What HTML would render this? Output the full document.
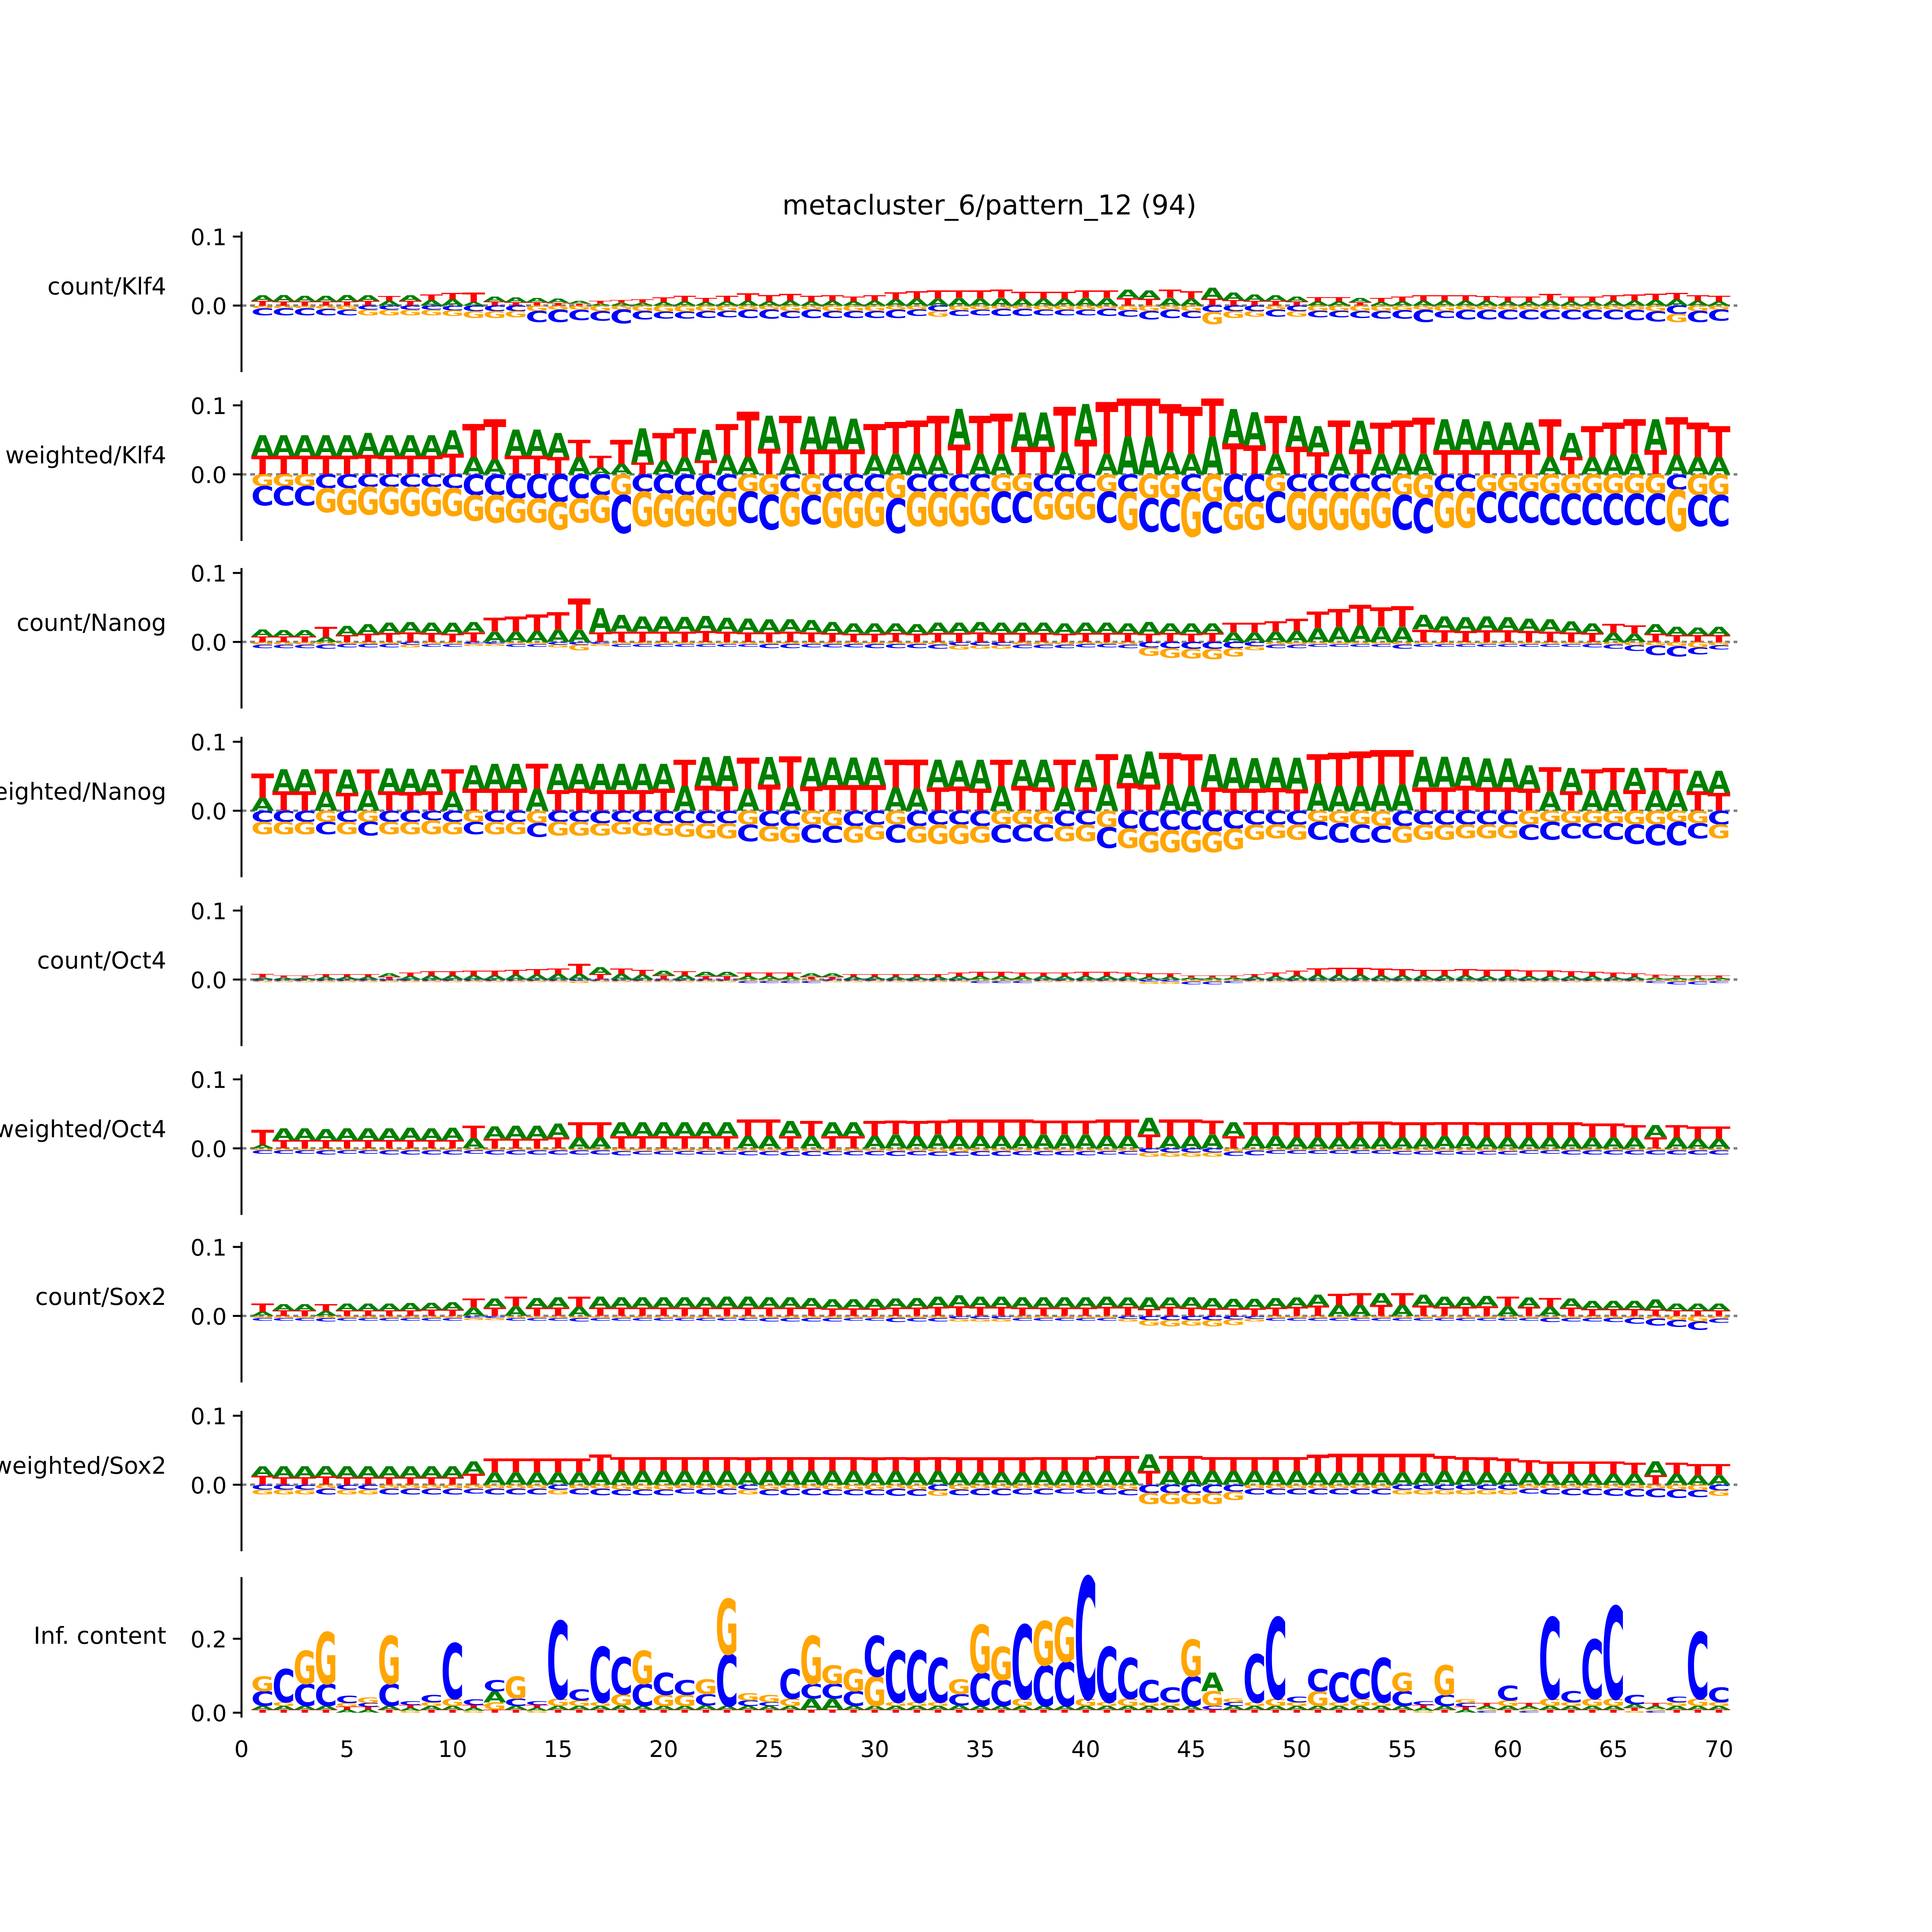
<!DOCTYPE html>
<html><head><meta charset="utf-8"><style>
html,body{margin:0;padding:0;background:#fff;overflow:hidden}
#wrap{position:absolute;left:0;top:0;width:5000px;height:5000px;overflow:hidden}
#chart{display:block;width:5000px;height:5000px}
</style></head><body>
<div id="wrap">
<svg id="chart" xmlns="http://www.w3.org/2000/svg" width="5000" height="5000" viewBox="0 0 1568 1568" preserveAspectRatio="none" overflow="hidden" font-family="DejaVu Sans, Liberation Sans, sans-serif">
<rect width="1568" height="1568" fill="#fff"/>
<text x="803" y="174" font-size="22" text-anchor="middle">metacluster_6/pattern_12 (94)</text>
<g id="panels"></g>
</svg>
</div>
<script>
const positions = Array.from({length:70},(_,i)=>i+1);
const xTicks = [0,5,10,15,20,25,30,35,40,45,50,55,60,65,70];
const panelLabels = ["count/Klf4","weighted/Klf4","count/Nanog","weighted/Nanog","count/Oct4","weighted/Oct4","count/Sox2","weighted/Sox2","Inf. content"];
const contribTicks = ["0.0","0.1"];
const icTicks = ["0.0","0.2"];
// values in thousandths
const countKlf4A=[8,9,8,8,9,8,7,8,8,9,5,7,7,6,6,4,3,4,4,5,6,5,6,7,6,7,6,7,6,7,9,10,10,11,10,11,10,10,10,11,11,12,12,11,10,16,11,9,8,7,6,6,6,5,6,7,7,7,7,6,6,7,6,6,7,7,8,9,7,6];
const countKlf4T=[7,6,6,6,6,7,7,7,8,9,14,6,5,5,4,3,4,4,5,7,8,6,8,11,9,10,8,8,7,8,10,11,12,11,12,12,10,10,10,11,11,11,10,12,11,10,8,7,7,6,6,6,5,6,7,8,8,8,7,7,7,10,7,7,8,9,9,9,8,8];
const countKlf4C=[10,10,10,9,8,6,6,6,6,7,8,8,8,16,18,15,14,20,12,10,10,10,9,12,13,10,12,10,10,10,12,9,8,8,8,10,10,8,8,8,10,9,12,12,10,9,8,8,10,8,9,9,10,11,12,18,10,14,14,14,14,14,14,14,14,15,15,12,16,16];
const countKlf4G=[4,4,4,5,6,8,8,8,8,8,10,10,9,8,6,6,8,6,8,9,9,8,8,6,6,8,6,8,8,8,6,6,8,7,6,5,5,6,6,6,5,7,8,6,8,18,10,8,6,8,8,8,8,8,7,6,8,6,6,6,6,6,6,6,6,6,8,12,8,6];
const weightedKlf4A=[30,30,30,30,30,32,30,30,30,34,25,22,38,38,35,25,10,15,50,20,25,45,28,25,48,30,48,48,45,28,30,30,28,52,30,30,50,50,32,52,30,55,55,32,30,55,50,48,30,45,38,30,42,30,30,30,45,45,42,40,40,25,35,25,28,30,45,28,25,25];
const weightedKlf4T=[27,27,27,27,27,28,27,27,27,30,48,58,27,27,25,25,17,35,17,40,42,20,45,66,37,55,36,36,36,45,46,48,57,43,55,58,40,40,66,50,75,55,55,70,68,55,45,42,55,40,32,48,36,45,48,52,35,35,35,35,35,55,25,45,47,50,35,55,50,45];
const weightedKlf4C=[28,28,28,20,20,18,18,18,18,20,30,30,35,35,40,35,30,55,25,28,30,30,25,45,50,25,42,25,25,25,50,25,25,25,25,45,45,25,25,25,45,25,48,48,25,45,40,40,45,25,25,25,25,25,50,50,25,25,45,45,45,45,45,45,45,45,45,22,45,45];
const weightedKlf4G=[17,17,17,35,38,40,40,42,42,40,37,40,35,35,40,35,40,30,50,48,45,45,50,25,30,50,30,52,52,50,35,50,50,50,48,25,25,40,40,40,25,55,35,35,65,40,40,40,25,55,55,55,55,52,30,35,52,52,25,25,25,28,28,28,28,28,28,60,30,30];
const countNanogA=[10,9,9,7,13,14,15,15,15,16,15,15,15,16,18,18,35,24,22,22,21,22,20,20,19,18,18,16,15,15,14,14,15,15,15,15,15,15,15,15,15,14,17,14,15,14,14,14,15,16,20,22,24,22,22,21,20,20,20,19,18,18,16,14,13,12,14,12,11,12];
const countNanogT=[8,8,8,15,10,12,13,14,13,12,14,20,22,24,25,45,14,15,15,15,15,16,15,14,14,15,14,13,12,12,13,12,13,13,14,13,13,13,12,13,13,13,12,13,12,13,14,14,15,18,24,26,30,28,30,18,17,16,17,17,16,15,14,13,13,12,12,10,10,10];
const countNanogC=[5,5,5,6,5,5,5,4,4,4,3,3,4,4,4,4,3,4,4,4,4,4,4,4,6,6,5,5,5,6,6,6,6,5,5,5,5,5,5,5,5,5,8,9,10,10,9,6,5,5,4,4,4,4,6,4,4,4,4,4,4,4,4,5,6,8,14,15,10,6];
const countNanogG=[4,4,4,4,3,3,3,4,3,3,3,3,3,3,4,8,3,3,3,3,3,3,3,3,3,3,3,3,3,3,3,3,4,6,5,5,4,4,4,3,3,4,12,14,14,15,12,6,4,4,3,3,3,3,4,3,3,3,3,3,3,3,3,3,4,5,5,6,8,5];
const weightedNanogA=[19,32,32,28,34,30,33,34,32,28,34,36,36,32,38,36,38,38,38,36,36,42,44,32,40,34,42,40,40,40,34,32,40,38,42,36,38,40,34,40,38,42,48,38,36,48,45,44,44,46,40,36,36,38,38,44,44,42,42,42,34,28,34,30,30,32,30,30,30,32];
const weightedNanogT=[35,28,28,32,26,30,28,27,28,32,32,32,32,36,30,32,30,30,30,32,38,36,35,45,38,45,35,37,37,37,40,42,34,35,32,38,36,34,40,34,44,40,38,46,46,34,32,32,33,31,42,48,50,50,50,34,34,36,34,34,32,35,28,30,32,30,32,30,28,26];
const weightedNanogC=[16,16,16,18,16,20,16,16,14,16,18,16,16,20,16,16,18,16,16,18,18,18,18,24,22,22,26,24,22,20,26,22,20,20,22,26,24,24,22,20,30,26,30,28,28,30,26,20,20,20,26,28,26,24,22,20,20,20,20,20,22,26,22,22,24,28,30,34,22,20];
const weightedNanogG=[18,18,18,16,18,16,18,18,20,18,16,18,18,18,20,20,18,18,20,18,20,22,22,20,22,24,20,22,24,22,20,24,28,28,24,20,20,20,22,24,24,28,30,32,32,30,30,22,20,22,16,18,20,22,24,22,22,20,20,20,20,16,18,18,18,20,20,16,18,20];
const countOct4A=[3,3,3,4,4,4,5,5,6,6,6,6,7,7,8,8,10,8,7,7,6,6,6,5,5,5,5,5,4,4,4,4,4,5,5,5,5,5,5,5,5,5,4,4,3,3,3,4,5,6,7,7,7,6,6,6,6,6,5,5,5,5,5,5,4,4,3,3,3,3];
const countOct4T=[5,3,3,4,4,4,4,5,6,6,7,7,7,8,8,15,8,8,7,6,6,5,5,5,5,5,4,4,4,4,4,4,4,5,6,6,5,5,5,6,6,5,5,5,3,3,3,4,5,7,9,10,10,10,9,8,8,9,9,9,8,8,7,6,6,5,4,3,3,3];
const countOct4C=[2,2,2,2,2,2,2,2,2,2,2,2,2,2,2,2,2,2,2,2,2,2,2,3,3,3,3,2,2,2,2,2,2,2,3,3,3,2,2,2,2,2,3,3,4,4,3,2,2,2,2,2,2,2,2,2,2,2,2,2,2,2,2,2,2,2,3,4,4,3];
const countOct4G=[2,2,2,2,2,2,2,2,2,2,2,2,2,2,2,3,2,2,2,2,2,2,2,2,2,2,2,2,2,2,2,2,2,2,2,2,2,2,2,2,2,2,3,3,3,3,2,2,2,2,2,2,2,2,2,2,2,2,2,2,2,2,2,2,2,2,2,3,3,2];
const weightedOct4A=[5,17,17,16,17,17,17,18,17,18,15,18,19,19,20,16,16,20,20,20,20,20,20,18,18,22,18,20,20,18,20,18,20,18,18,18,18,20,20,20,18,18,24,18,18,20,20,18,18,16,16,16,16,16,16,16,18,18,16,16,16,16,16,16,16,16,18,16,14,14];
const weightedOct4T=[22,12,12,12,12,12,12,12,12,12,18,14,14,14,16,22,22,18,18,18,18,18,18,24,24,18,22,18,18,22,20,22,20,24,24,24,24,20,20,20,24,24,20,24,24,20,18,20,20,22,22,22,23,23,22,22,20,20,22,22,22,22,22,20,20,18,16,18,18,18];
const weightedOct4C=[5,5,5,6,5,5,6,6,6,6,5,6,6,6,6,6,6,6,5,5,5,5,5,6,6,7,7,6,6,6,7,6,6,6,7,7,6,6,6,6,5,5,6,6,6,6,6,7,5,5,5,5,5,5,5,5,5,5,5,5,5,5,6,6,6,6,6,6,6,6];
const weightedOct4G=[3,3,3,3,3,3,3,3,3,3,3,3,3,3,3,3,3,4,4,4,4,4,4,4,4,4,4,4,4,4,4,4,5,5,4,4,4,4,4,4,4,4,6,6,6,6,5,3,3,3,3,3,3,3,4,4,4,4,4,4,3,3,3,3,3,3,3,3,3,3];
const countSox2A=[6,9,9,7,10,10,10,11,10,11,12,13,14,14,15,13,16,15,15,15,15,15,16,16,15,15,14,13,13,14,13,14,15,16,15,15,15,15,15,15,15,14,17,14,15,15,14,14,14,14,16,16,16,17,16,16,15,15,15,14,14,13,13,12,12,12,15,10,10,10];
const countSox2T=[12,8,8,10,8,8,8,8,9,9,13,12,14,12,12,15,12,12,12,12,12,12,12,12,12,12,12,11,11,11,12,12,13,14,13,13,12,12,12,12,13,13,10,13,12,11,11,11,12,13,15,16,17,16,17,15,13,13,14,14,13,13,12,10,10,10,9,8,8,8];
const countSox2C=[4,4,4,5,4,4,4,4,4,4,3,3,4,4,4,5,4,4,4,4,4,4,4,4,5,5,5,5,4,4,6,5,5,4,4,4,4,4,4,4,4,4,6,6,6,6,5,4,4,4,4,4,4,4,4,4,4,4,4,4,4,6,5,5,6,8,10,10,12,6];
const countSox2G=[3,3,3,3,3,3,3,3,3,3,3,3,3,3,3,3,3,3,3,3,3,3,3,3,3,3,3,3,3,3,3,3,3,4,4,4,3,3,3,3,3,4,8,9,8,9,8,4,3,3,3,3,3,3,3,3,3,3,3,3,3,3,3,3,3,3,4,6,8,4];
const weightedSox2A=[14,16,16,15,16,16,16,16,16,16,18,18,18,18,18,18,20,20,20,20,20,20,20,18,20,20,20,20,20,18,20,18,20,18,18,18,18,20,20,20,20,20,24,20,20,20,20,20,20,20,18,18,18,18,18,18,20,20,18,18,18,16,16,16,16,16,20,16,14,14];
const weightedSox2T=[13,11,11,12,11,11,11,11,11,11,16,20,20,20,20,20,24,20,20,20,20,20,20,22,20,20,20,20,20,22,20,22,20,22,22,22,22,20,20,20,22,22,20,22,22,20,20,20,20,20,26,27,27,27,27,27,22,20,22,20,18,18,18,18,18,16,14,16,16,16];
const weightedSox2C=[7,7,7,8,7,7,8,8,8,8,7,8,8,8,7,8,9,8,8,8,7,8,8,7,8,9,9,8,8,8,10,9,8,8,9,9,8,8,7,7,8,8,12,12,12,12,10,8,8,8,8,8,8,8,7,7,7,7,7,7,7,8,9,9,10,11,12,12,10,8];
const weightedSox2G=[7,7,7,6,7,7,6,6,6,6,6,6,6,6,7,6,6,7,7,7,6,6,6,7,7,6,6,7,7,7,6,7,8,7,6,6,6,6,6,6,6,7,16,16,16,16,12,6,6,6,6,6,6,6,7,7,7,7,7,7,6,6,6,6,6,6,6,7,8,8];
const icA=[10,10,10,10,8,8,10,8,10,10,8,30,10,8,10,10,10,12,10,10,10,12,10,10,10,10,30,30,10,10,10,10,10,12,10,10,10,10,10,10,10,10,10,10,10,50,10,10,10,10,10,10,10,10,10,8,10,8,8,10,8,10,10,10,10,10,8,10,10,10];
const icT=[8,8,8,8,8,8,8,8,8,8,8,8,8,8,8,8,8,8,8,8,8,8,8,8,8,8,8,8,8,8,8,8,8,8,8,8,8,8,8,8,8,8,8,8,8,8,8,8,8,8,8,8,8,8,8,8,8,8,8,8,8,8,8,8,8,8,8,8,8,8];
const icC=[40,90,60,60,20,10,60,10,20,150,15,30,20,10,210,30,150,100,60,60,40,30,140,15,10,80,40,40,40,110,140,140,120,30,90,70,200,110,120,330,150,110,60,40,80,10,10,130,220,15,60,80,80,120,40,10,30,10,5,40,5,220,30,160,250,25,5,15,180,40];
const icG=[40,10,90,140,10,15,130,5,10,20,5,20,60,5,20,15,10,30,90,30,30,40,150,20,20,20,130,50,60,80,10,10,10,40,130,90,20,120,120,20,10,20,10,10,100,40,10,10,20,10,40,10,20,10,50,5,80,10,5,15,5,20,10,20,20,5,5,10,20,10];

const NS="http://www.w3.org/2000/svg";
const root=document.getElementById('panels');
const X0=196, UX=17.13;
const xScale=v=>X0+v*UX;
const COLORS={A:"#008000",C:"#0000ff",G:"#ffa500",T:"#ff0000"};
function mk(tag,attrs){const e=document.createElementNS(NS,tag);for(const k in attrs)e.setAttribute(k,attrs[k]);return e;}

const panels=[
 {label:panelLabels[0],zero:248,k:0.56,pos:{A:countKlf4A,T:countKlf4T},neg:{C:countKlf4C,G:countKlf4G}},
 {label:panelLabels[1],zero:385,k:0.56,pos:{A:weightedKlf4A,T:weightedKlf4T},neg:{C:weightedKlf4C,G:weightedKlf4G}},
 {label:panelLabels[2],zero:521,k:0.56,pos:{A:countNanogA,T:countNanogT},neg:{C:countNanogC,G:countNanogG}},
 {label:panelLabels[3],zero:658,k:0.56,pos:{A:weightedNanogA,T:weightedNanogT},neg:{C:weightedNanogC,G:weightedNanogG}},
 {label:panelLabels[4],zero:795,k:0.56,pos:{A:countOct4A,T:countOct4T},neg:{C:countOct4C,G:countOct4G}},
 {label:panelLabels[5],zero:932,k:0.56,pos:{A:weightedOct4A,T:weightedOct4T},neg:{C:weightedOct4C,G:weightedOct4G}},
 {label:panelLabels[6],zero:1068,k:0.56,pos:{A:countSox2A,T:countSox2T},neg:{C:countSox2C,G:countSox2G}},
 {label:panelLabels[7],zero:1205,k:0.56,pos:{A:weightedSox2A,T:weightedSox2T},neg:{C:weightedSox2C,G:weightedSox2G}},
 {label:panelLabels[8],zero:1390,k:0.30,pos:{A:icA,T:icT,C:icC,G:icG},neg:{},ic:true}
];
const CAP=14.6, LW=18.6;

function letter(g,ch,xc,yBottom,h){
  if(h<=0.05)return;
  const t=mk('text',{x:0,y:0,'font-size':20,'font-weight':'bold',fill:COLORS[ch],textLength:LW,lengthAdjust:'spacingAndGlyphs',
    transform:`translate(${(xc-LW/2).toFixed(2)},${yBottom.toFixed(2)}) scale(1,${(h/CAP).toFixed(4)})`});
  t.textContent=ch;
  
  
  g.appendChild(t);
}

panels.forEach((p,pi)=>{
  const g=mk('g',{});
  
  
  root.appendChild(g);
  const top=p.ic?1280:p.zero-60, bot=p.ic?1394:p.zero+54;
  const lab=mk('text',{x:135,y:p.ic?1334:p.zero-9,'font-size':19,'text-anchor':'end'});
  lab.textContent=p.label;
  
  
  g.appendChild(lab);
  if(!p.ic){
    const zl=mk('line',{x1:X0,x2:1410,y1:p.zero,y2:p.zero,stroke:'#808080','stroke-width':2,'stroke-dasharray':'4,3'});
    
    
    g.appendChild(zl);
  }
  const lg=mk('g',{});
  
  
  g.appendChild(lg);
  positions.forEach((pos,i)=>{
    const xc=xScale(pos);
    const pl=Object.keys(p.pos).map(ch=>[ch,p.pos[ch][i]]).sort((a,b)=>a[1]-b[1]);
    let y=p.zero;
    pl.forEach(([ch,v])=>{const h=v*p.k;letter(lg,ch,xc,y,h);y-=h;});
    const nl=Object.keys(p.neg).map(ch=>[ch,p.neg[ch][i]]).sort((a,b)=>a[1]-b[1]);
    y=p.zero;
    nl.forEach(([ch,v])=>{const h=v*p.k;letter(lg,ch,xc,y+h,h);y+=h;});
  });
  const sp=mk('line',{x1:X0,x2:X0,y1:top,y2:bot,stroke:'#000','stroke-width':1.6});
  
  
  g.appendChild(sp);
  const ticks=p.ic?icTicks:contribTicks;
  ticks.forEach(tl=>{
    const yy=p.zero-parseFloat(tl)*1000*p.k;
    const tk=mk('line',{x1:X0-7,x2:X0,y1:yy,y2:yy,stroke:'#000','stroke-width':1.6});
    
    
    g.appendChild(tk);
    const tt=mk('text',{x:X0-12,y:yy+7,'font-size':18.5,'text-anchor':'end'});
    tt.textContent=tl;
    
    
    g.appendChild(tt);
  });
  if(p.ic){
    xTicks.forEach(v=>{
      const xx=xScale(v);
      const tt=mk('text',{x:xx,y:1426,'font-size':18.5,'text-anchor':'middle'});
      tt.textContent=String(v);
      
      
      g.appendChild(tt);
    });
  }
});
</script>
</body></html>
